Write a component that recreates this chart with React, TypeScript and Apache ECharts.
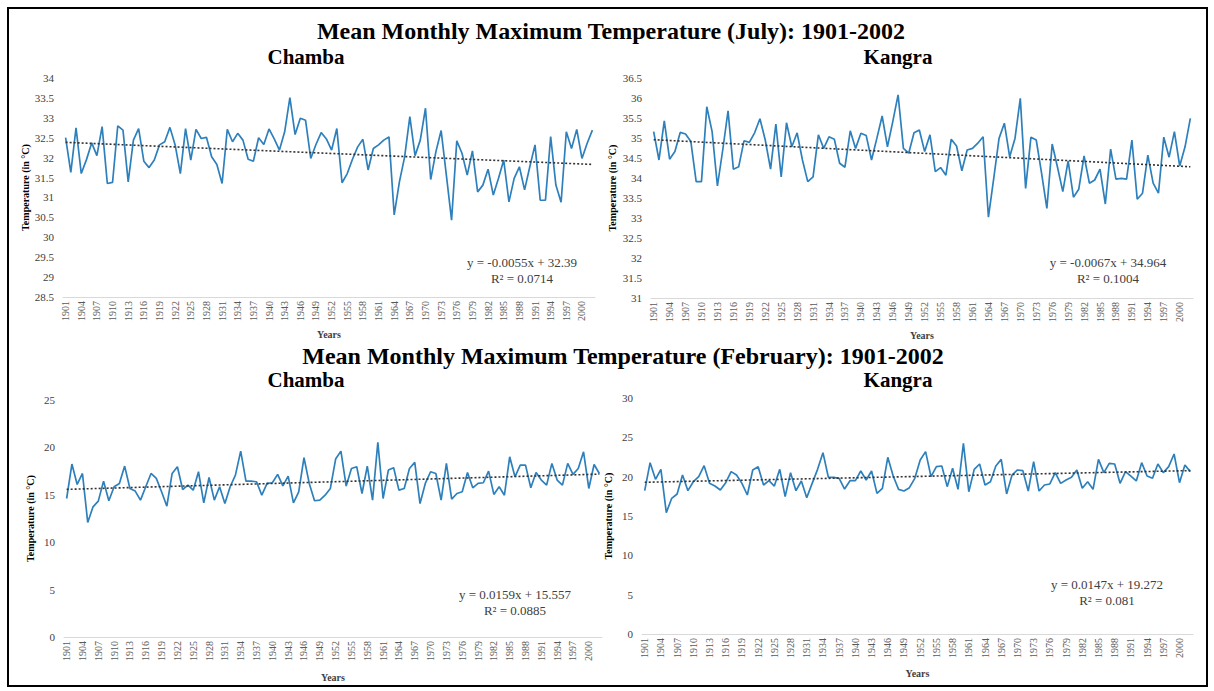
import React, { useEffect, useRef } from "react";
import * as echarts from "echarts";

const years: string[] = [];
for (let y = 1901; y <= 2002; y++) years.push(String(y));

const julyChamba = [
  32.5, 31.63, 32.75, 31.6, 31.95, 32.37, 32.05, 32.78, 31.35, 31.38,
  32.8, 32.69, 31.39, 32.44, 32.73, 31.91, 31.75, 31.94, 32.32, 32.4,
  32.76, 32.32, 31.6, 32.73, 31.94, 32.71, 32.48, 32.51, 32.02, 31.83,
  31.35, 32.71, 32.4, 32.61, 32.44, 31.96, 31.91, 32.5, 32.33, 32.72,
  32.47, 32.19, 32.65, 33.51, 32.58, 32.99, 32.94, 31.98, 32.33, 32.63,
  32.47, 32.19, 32.73, 31.37, 31.6, 31.96, 32.27, 32.46, 31.69, 32.23,
  32.32, 32.44, 32.52, 30.56, 31.39, 32.02, 33.03, 32.05, 32.44, 33.24,
  31.45, 32.15, 32.68, 31.56, 30.43, 32.42, 32.11, 31.56, 32.17, 31.14,
  31.31, 31.71, 31.06, 31.48, 31.94, 30.89, 31.48, 31.77, 31.19, 31.77,
  32.32, 30.93, 30.93, 32.53, 31.31, 30.88, 32.65, 32.23, 32.71, 31.98,
  32.36, 32.69,
];

const julyKangra = [
  35.16, 34.45, 35.43, 34.47, 34.66, 35.14, 35.1, 34.91, 33.91, 33.91,
  35.78, 35.16, 33.8, 34.7, 35.68, 34.22, 34.28, 34.93, 34.89, 35.13,
  35.48, 34.95, 34.22, 35.35, 34.03, 35.38, 34.78, 35.13, 34.45, 33.91,
  34.03, 35.08, 34.74, 35.03, 34.97, 34.37, 34.27, 35.18, 34.74, 35.12,
  35.06, 34.45, 34.99, 35.55, 34.78, 35.41, 36.08, 34.74, 34.62, 35.13,
  35.2, 34.66, 35.08, 34.16, 34.26, 34.07, 34.97, 34.8, 34.18, 34.7,
  34.74, 34.87, 35.03, 33.02, 33.99, 34.99, 35.37, 34.53, 34.99, 35.99,
  33.74, 35.02, 34.95, 34.12, 33.24, 34.85, 34.27, 33.66, 34.43, 33.52,
  33.72, 34.55, 33.87, 33.95, 34.22, 33.35, 34.72, 33.97, 33.99, 33.97,
  34.95, 33.47, 33.62, 34.57, 33.87, 33.62, 35.02, 34.52, 35.16, 34.3,
  34.78, 35.49,
];

const febChamba = [
  14.61, 18.24, 16.09, 17.25, 12.08, 13.73, 14.33, 16.44, 14.37, 15.85,
  16.2, 18.03, 15.67, 15.39, 14.44, 15.85, 17.25, 16.73, 15.32, 13.8,
  17.25, 17.96, 15.56, 16.02, 15.49, 17.43, 14.15, 16.83, 14.44, 15.85,
  14.08, 15.85, 17.08, 19.61, 16.44, 16.44, 16.37, 14.96, 16.2, 16.27,
  17.15, 15.95, 16.97, 14.15, 15.32, 18.91, 16.2, 14.37, 14.44, 14.96,
  15.67, 18.77, 19.61, 15.92, 17.78, 17.96, 15.14, 18.03, 14.44, 20.53,
  14.61, 17.61, 17.85, 15.49, 15.67, 17.78, 18.42, 14.08, 16.2, 17.43,
  17.25, 14.44, 18.31, 14.54, 15.14, 15.32, 17.36, 15.74, 16.2, 16.27,
  17.5, 15.04, 15.85, 14.96, 19.01, 16.9, 18.13, 18.13, 15.74, 17.36,
  16.55, 16.02, 18.31, 16.55, 16.02, 18.31, 17.15, 17.78, 19.54, 15.67,
  18.2, 17.25,
];

const febKangra = [
  18.22, 21.78, 19.66, 20.93, 15.42, 17.25, 17.8, 20.21, 18.22, 19.36,
  20.0, 21.4, 19.15, 18.81, 18.31, 19.24, 20.64, 20.21, 19.15, 17.67,
  20.85, 21.27, 18.94, 19.49, 18.81, 20.93, 17.46, 20.51, 18.22, 19.45,
  17.33, 19.15, 20.93, 23.05, 19.92, 19.92, 19.79, 18.43, 19.49, 19.49,
  20.72, 19.58, 20.72, 17.88, 18.52, 22.46, 20.08, 18.39, 18.18, 18.6,
  19.79, 22.12, 23.18, 20.0, 21.27, 21.36, 18.73, 21.06, 18.39, 24.24,
  18.09, 20.93, 21.61, 18.94, 19.36, 21.36, 22.2, 17.8, 20.21, 20.85,
  20.76, 18.18, 21.91, 18.18, 18.94, 19.07, 20.51, 19.15, 19.58, 19.92,
  20.85, 18.52, 19.36, 18.39, 22.2, 20.51, 21.69, 21.61, 19.15, 20.64,
  20.08, 19.45, 21.78, 20.08, 19.79, 21.61, 20.51, 21.27, 22.88, 19.24,
  21.48, 20.64,
];

const trendSlopes = [-0.0055, -0.0067, 0.0159, 0.0147];
const trendIntercepts = [32.39, 34.964, 15.557, 19.272];
const equationTexts = [
  "y = -0.0055x + 32.39",
  "y = -0.0067x + 34.964",
  "y = 0.0159x + 15.557",
  "y = 0.0147x + 19.272",
];
const r2Texts = ["R² = 0.0714", "R² = 0.1004", "R² = 0.0885", "R² = 0.081"];
const yMins = [28.5, 31, 0, 0];
const yMaxs = [34, 36.5, 25, 30];
const yIntervals = [0.5, 0.5, 5, 5];
const mainTitles = [
  "Mean Monthly Maximum Temperature (July): 1901-2002",
  "Mean Monthly Maximum Temperature (February): 1901-2002",
];
const stationNames = ["Chamba", "Kangra"];

const seriesData = [julyChamba, julyKangra, febChamba, febKangra];

const FONT = "'Liberation Serif', 'Times New Roman', serif";

const grids = [
  { left: 63, top: 78, width: 532, height: 219 },
  { left: 651, top: 78, width: 542, height: 220 },
  { left: 64, top: 400, width: 538, height: 237 },
  { left: 642, top: 398, width: 551, height: 236 },
];
const yNameGaps = [33, 34, 29, 29];
const xNameGaps = [32, 32, 35, 34];
const eqPos = [
  { x: 522, y: 262 },
  { x: 1108, y: 262 },
  { x: 515, y: 594 },
  { x: 1107, y: 584 },
];

export default function App() {
  const ref = useRef<HTMLDivElement>(null);
  useEffect(() => {
    if (!ref.current) return;
    const chart = echarts.init(ref.current, undefined, { renderer: "svg" });
    const n = years.length;
    const option: any = {
      animation: false,
      backgroundColor: "#ffffff",
      textStyle: { fontFamily: FONT },
      title: [
        { text: mainTitles[0], left: 611, top: 19, textAlign: "center" },
        { text: stationNames[0], left: 306, top: 46, textAlign: "center", sub: true },
        { text: stationNames[1], left: 898, top: 46, textAlign: "center", sub: true },
        { text: mainTitles[1], left: 623, top: 344, textAlign: "center" },
        { text: stationNames[0], left: 306, top: 369, textAlign: "center", sub: true },
        { text: stationNames[1], left: 898, top: 369, textAlign: "center", sub: true },
      ].map((t: any) => ({
        text: t.text,
        left: t.left,
        top: t.top,
        textAlign: t.textAlign,
        padding: 0,
        textStyle: {
          fontFamily: FONT,
          fontWeight: "bold",
          fontSize: t.sub ? 21 : 24,
          color: "#000",
        },
      })),
      grid: grids.map((g) => ({ ...g, containLabel: false })),
      xAxis: grids.map((_, i) => ({
        type: "category",
        gridIndex: i,
        data: years,
        boundaryGap: true,
        name: "Years",
        nameLocation: "middle",
        nameGap: xNameGaps[i],
        nameTextStyle: { fontFamily: FONT, fontWeight: "bold", fontSize: 10, color: "#404040" },
        axisLine: { show: true, lineStyle: { color: "#d9d9d9", width: 1 } },
        axisTick: { show: false },
        splitLine: { show: false },
        axisLabel: {
          interval: 2,
          rotate: 90,
          fontFamily: FONT,
          fontSize: 10,
          color: "#595959",
          margin: 4,
        },
      })),
      yAxis: grids.map((_, i) => ({
        type: "value",
        gridIndex: i,
        min: yMins[i],
        max: yMaxs[i],
        interval: yIntervals[i],
        name: "Temperature (in °C)",
        nameLocation: "middle",
        nameGap: yNameGaps[i],
        nameRotate: 90,
        nameTextStyle: { fontFamily: FONT, fontWeight: "bold", fontSize: 10, color: "#000" },
        axisLine: { show: false },
        axisTick: { show: false },
        splitLine: { show: false },
        axisLabel: { fontFamily: FONT, fontSize: 11, color: "#404040", margin: 9 },
      })),
      series: seriesData.map((d, i) => ({
        type: "line",
        xAxisIndex: i,
        yAxisIndex: i,
        data: d,
        symbol: "none",
        lineStyle: { color: "#2E80BC", width: 1.7 },
        markLine: {
          silent: true,
          symbol: ["none", "none"],
          label: { show: false },
          lineStyle: { type: [2, 2], color: "#333333", width: 1.6 },
          data: [
            [
              { coord: [years[0], trendIntercepts[i] + trendSlopes[i] * 1] },
              { coord: [years[n - 1], trendIntercepts[i] + trendSlopes[i] * n] },
            ],
          ],
        },
      })),
      graphic: [
        {
          type: "rect",
          shape: { x: 8, y: 8, width: 1199, height: 678 },
          style: { fill: "none", stroke: "#000", lineWidth: 2 },
          silent: true,
        },
        ...eqPos.flatMap((p, i) => [
          {
            type: "text",
            x: p.x,
            y: p.y,
            style: {
              text: equationTexts[i],
              fontFamily: FONT,
              fontSize: 13,
              fill: "#404040",
              align: "center",
              verticalAlign: "middle",
            },
          },
          {
            type: "text",
            x: p.x,
            y: p.y + 16,
            style: {
              text: r2Texts[i],
              fontFamily: FONT,
              fontSize: 13,
              fill: "#404040",
              align: "center",
              verticalAlign: "middle",
            },
          },
        ]),
      ],
    };
    chart.setOption(option);
    return () => chart.dispose();
  }, []);
  return (
    <div
      ref={ref}
      style={{ position: "absolute", left: 0, top: 0, width: 1214, height: 691 }}
    />
  );
}
